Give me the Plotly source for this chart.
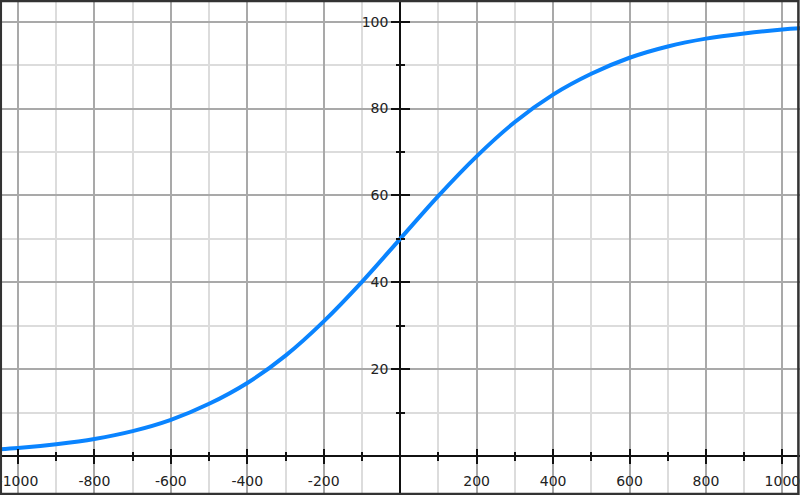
import plotly.graph_objects as go

# Values
x_vals = [-1050, -1000, -900, -800, -700, -600, -500, -400, -300, -200, -100, 0,
          100, 200, 300, 400, 500, 600, 700, 800, 900, 1000, 1050]
y_vals = [1.5, 1.8, 2.7, 3.9, 5.7, 8.3, 12.0, 16.8, 23.1, 31.0, 40.1, 50.0,
          59.9, 69.0, 76.9, 83.2, 88.0, 91.7, 94.3, 96.1, 97.3, 98.2, 98.5]

x_ticks = [-1000, -800, -600, -400, -200, 200, 400, 600, 800, 1000]
x_labels = ["-1000", "-800", "-600", "-400", "-200", "200", "400", "600", "800", "1000"]
y_ticks = [20, 40, 60, 80, 100]
y_labels = ["20", "40", "60", "80", "100"]

X_RANGE = [-1047, 1046]
Y_RANGE = [-9, 105]

x_pos = (0 - Y_RANGE[0]) / (Y_RANGE[1] - Y_RANGE[0])
y_pos = (0 - X_RANGE[0]) / (X_RANGE[1] - X_RANGE[0])

MAJ = "#a9a9a9"
MIN = "#dcdcdc"
FONT = dict(family="DejaVu Sans", size=14, color="#222")

fig = go.Figure()
fig.add_trace(go.Scatter(x=x_vals, y=y_vals, mode="lines",
                         line=dict(color="#0a84ff", width=4, shape="spline", smoothing=1.0),
                         hoverinfo="skip", showlegend=False))
fig.add_trace(go.Scatter(x=[], y=[], xaxis="x2", yaxis="y2", showlegend=False))

common_x = dict(range=X_RANGE, tickmode="array", tickvals=x_ticks, ticktext=x_labels,
                anchor="free", position=x_pos, ticklen=7, tickwidth=1.5,
                tickcolor="#111", automargin=False)
common_y = dict(range=Y_RANGE, tickmode="array", tickvals=y_ticks, ticktext=y_labels,
                anchor="free", position=y_pos, ticklen=9, tickwidth=1.5,
                tickcolor="#111", automargin=False)

fig.update_layout(
    width=800, height=495,
    margin=dict(l=0, r=0, t=0, b=0, autoexpand=False),
    paper_bgcolor="white", plot_bgcolor="white",
    xaxis=dict(**common_x, ticks="outside", showticklabels=True,
               tickfont=FONT, ticklabelstandoff=5, ticklabeloverflow="allow",
               showgrid=True, gridcolor=MAJ, gridwidth=1.5,
               zeroline=True, zerolinecolor="#111", zerolinewidth=2,
               showline=False,
               minor=dict(dtick=100, tick0=0, showgrid=True, gridcolor=MIN, gridwidth=1.5,
                          ticks="outside", ticklen=4, tickwidth=1.5, tickcolor="#111")),
    yaxis=dict(**common_y, ticks="outside", showticklabels=True,
               tickfont=FONT, ticklabelstandoff=0, ticklabeloverflow="allow",
               showgrid=True, gridcolor=MAJ, gridwidth=1.5,
               zeroline=True, zerolinecolor="#111", zerolinewidth=2,
               showline=False,
               minor=dict(dtick=10, tick0=0, showgrid=True, gridcolor=MIN, gridwidth=1.5,
                          ticks="outside", ticklen=4, tickwidth=1.5, tickcolor="#111")),
    xaxis2=dict(**common_x, overlaying="x", ticks="inside", showticklabels=False,
                showgrid=False, zeroline=False, showline=False,
                minor=dict(dtick=100, tick0=0, ticks="inside", ticklen=4,
                           tickwidth=1.5, tickcolor="#111", showgrid=False)),
    yaxis2=dict(**common_y, overlaying="y", ticks="inside", showticklabels=False,
                showgrid=False, zeroline=False, showline=False,
                minor=dict(dtick=10, tick0=0, ticks="inside", ticklen=4,
                           tickwidth=1.5, tickcolor="#111", showgrid=False)),
    shapes=[dict(type="rect", xref="paper", yref="paper", x0=0.001, y0=0.002, x1=0.998, y1=0.998,
                 line=dict(color="#333", width=2.5), layer="above")],
)

fig.write_html("out.html", config={"displayModeBar": False},
               post_script="document.body.style.margin='0';document.body.style.overflow='hidden';")
